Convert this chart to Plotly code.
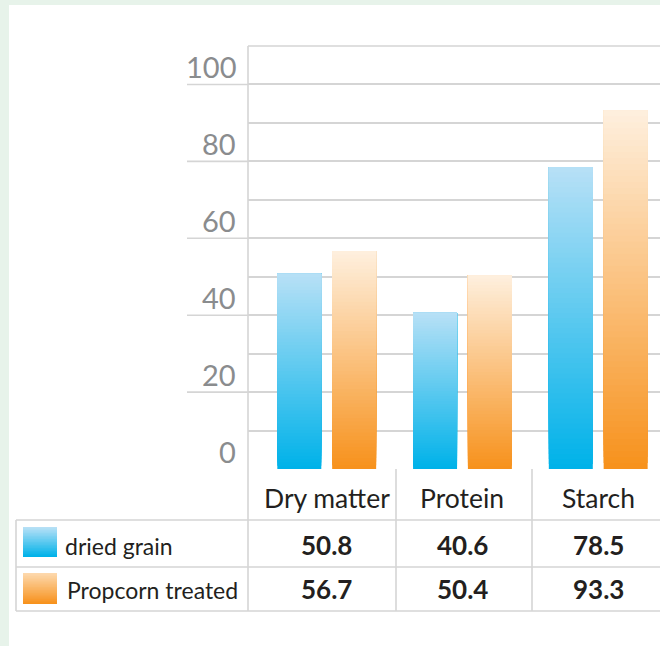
import plotly.graph_objects as go

# ---------------- data ----------------
categories = ["Dry matter", "Protein", "Starch"]
series_names = ["dried grain", "Propcorn treated"]
dried_grain = [50.8, 40.6, 78.5]
propcorn_treated = [56.7, 50.4, 93.3]
y_tick_values = [0, 20, 40, 60, 80, 100]

# ---------------- layout constants ----------------
W, H = 660, 646
PL, PR, PT, PB = 248, 660, 46, 469  # plot-area pixel box


def X(px):
    return (px - PL) / (PR - PL)


def Y(py):
    return (PB - py) / (PB - PT)


BLUE_TOP, BLUE_BOT = (182, 224, 246), (0, 178, 233)
ORANGE_TOP, ORANGE_BOT = (254, 239, 221), (247, 146, 29)
NSEG = 60
LINE = "#d5d5d5"
FONT = "Lato"


def lerp(c0, c1, t):
    return "rgb(%d,%d,%d)" % tuple(round(a + (b - a) * t) for a, b in zip(c0, c1))


def gradient_bar(values, name, top, bot, offset):
    # each segment runs from its own start up to the bar top; later (higher)
    # segments paint over earlier ones, giving a seamless vertical gradient
    xs, bases, ys, cols = [], [], [], []
    for i, v in enumerate(values):
        for k in range(NSEG):
            start = v * k / NSEG
            xs.append(i)
            bases.append(start)
            ys.append(v - start)
            cols.append(lerp(bot, top, k / (NSEG - 1)))
    return go.Bar(
        x=xs, y=ys, base=bases, width=0.324, offset=offset,
        marker=dict(color=cols, line=dict(width=0)),
        name=name, showlegend=False, hoverinfo="skip",
    )


fig = go.Figure()
fig.add_trace(gradient_bar(dried_grain, series_names[0], BLUE_TOP, BLUE_BOT, -0.364))
fig.add_trace(gradient_bar(propcorn_treated, series_names[1], ORANGE_TOP, ORANGE_BOT, 0.040))

shapes = []
# white card over the light-green page background
shapes.append(dict(type="rect", xref="paper", yref="paper", x0=X(9), x1=X(W + 5),
                   y0=Y(5), y1=Y(H + 5), fillcolor="white", line=dict(width=0), layer="below"))


def hline(py, x0, x1):
    shapes.append(dict(type="line", xref="paper", yref="paper", x0=X(x0), x1=X(x1),
                       y0=Y(py), y1=Y(py), line=dict(color=LINE, width=1.6)))


def vline(px, y0, y1):
    shapes.append(dict(type="line", xref="paper", yref="paper", x0=X(px), x1=X(px),
                       y0=Y(y0), y1=Y(y1), line=dict(color=LINE, width=1.6)))


# plot frame and table grid
hline(PT, PL, W + 5)
vline(PL, PT, 611)
hline(520, 16, W + 5)
hline(567, 16, W + 5)
hline(611, 16, W + 5)
vline(16, 520, 611)
vline(396, PB, 611)
vline(532, PB, 611)

annotations = []
# y tick labels + left extensions of labelled grid lines
for v in y_tick_values:
    annotations.append(dict(text=str(v), xref="paper", yref="y", x=X(238), y=v + 4.6,
                            xanchor="right", yanchor="middle", showarrow=False,
                            font=dict(family=FONT, size=29, color="#8a8c8e")))
    if v > 0:
        shapes.append(dict(type="line", xref="paper", yref="y", x0=X(187), x1=0,
                           y0=v, y1=v, line=dict(color=LINE, width=1.6)))

# header row (categories) and value rows
for i, c in enumerate(categories):
    annotations.append(dict(text=c, xref="x", yref="paper", x=i, y=Y(498),
                            xanchor="center", yanchor="middle", showarrow=False,
                            font=dict(family=FONT, size=26.5, color="#231f20")))
for row_y, vals in ((545, dried_grain), (589, propcorn_treated)):
    for i, v in enumerate(vals):
        annotations.append(dict(text="<b>%.1f</b>" % v, xref="x", yref="paper", x=i, y=Y(row_y),
                                xanchor="center", yanchor="middle", showarrow=False,
                                font=dict(family=FONT, size=26, color="#231f20")))

# legend column: gradient swatches + names
for (sy0, sy1, top, bot, name, tx, ty) in (
    (527, 557, BLUE_TOP, BLUE_BOT, series_names[0], 63, 546),
    (573, 604, (253, 216, 172), ORANGE_BOT, series_names[1], 65, 590),
):
    n = 20
    for k in range(n):
        a = sy1 - (sy1 - sy0) * k / n
        shapes.append(dict(type="rect", xref="paper", yref="paper", x0=X(23), x1=X(57),
                           y0=Y(a), y1=Y(sy0), fillcolor=lerp(bot, top, k / (n - 1)),
                           line=dict(width=0)))
    annotations.append(dict(text=name, xref="paper", yref="paper", x=X(tx), y=Y(ty),
                            xanchor="left", yanchor="middle", showarrow=False,
                            font=dict(family=FONT, size=23, color="#231f20")))

x_left = -0.580
x_right = 2.455
fig.update_layout(
    width=W, height=H, autosize=False,
    margin=dict(l=PL, r=W - PR, t=PT, b=H - PB, pad=0),
    paper_bgcolor="#e7f3ea", plot_bgcolor="rgba(0,0,0,0)",
    barmode="overlay", showlegend=False,
    xaxis=dict(range=[x_left, x_right], showgrid=False, zeroline=False,
               showticklabels=False, ticks="", fixedrange=True),
    yaxis=dict(range=[0, 110], dtick=10, tick0=0, showgrid=True, gridcolor=LINE,
               gridwidth=1.6, zeroline=False, showticklabels=False, ticks="", fixedrange=True),
    shapes=shapes, annotations=annotations,
)

fig.write_html(
    "out.html",
    config={"displayModeBar": False},
    post_script="document.body.style.margin='0';document.body.style.overflow='hidden';",
)
